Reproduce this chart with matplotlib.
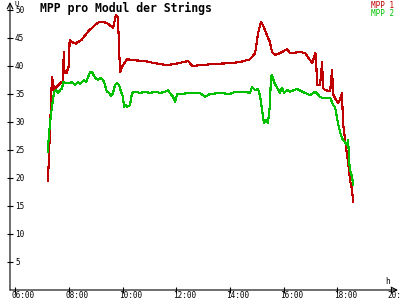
import matplotlib.pyplot as plt
from matplotlib.transforms import ScaledTranslation, blended_transform_factory

# MPP 1 (red) - time in hours, voltage per module
t1 = [7.21, 7.25, 7.36, 7.40, 7.44, 7.51, 7.60, 7.70, 7.77, 7.80, 7.83, 7.90, 7.99, 8.02,
      8.10, 8.25, 8.33, 8.45, 8.55, 8.70, 8.85, 9.00, 9.15, 9.23, 9.41, 9.64, 9.75, 9.82,
      9.90, 9.97, 10.16, 10.5, 10.8, 11.2, 11.6, 11.9, 12.44, 12.6, 13.0, 13.5, 14.0,
      14.38, 14.75, 14.94, 15.05, 15.16, 15.23, 15.38, 15.49, 15.57, 15.68, 15.87, 16.13,
      16.24, 16.62, 16.81, 17.07, 17.18, 17.21, 17.25, 17.36, 17.44, 17.47, 17.55, 17.74,
      17.81, 17.85, 17.92, 18.03, 18.11, 18.18, 18.22, 18.33, 18.41, 18.48, 18.56, 18.59]
u1 = [19.5, 24.0, 38.0, 37.0, 35.7, 36.2, 36.6, 37.1, 37.0, 42.5, 38.7, 38.7, 40.0, 44.6,
      44.3, 44.0, 44.3, 44.6, 45.2, 46.1, 46.8, 47.5, 47.9, 47.9, 47.7, 46.8, 49.1, 48.8,
      38.9, 39.8, 41.2, 41.0, 40.9, 40.5, 40.2, 40.3, 40.9, 40.0, 40.2, 40.4, 40.5,
      40.7, 41.2, 42.3, 45.9, 47.9, 47.3, 45.5, 44.3, 42.5, 42.0, 42.3, 43.0,
      42.3, 42.5, 42.3, 40.5, 42.3, 42.0, 36.6, 36.6, 40.7, 36.1, 35.7, 35.5,
      39.3, 35.0, 34.3, 33.4, 34.0, 35.2, 29.8, 25.5, 22.7, 19.6, 17.9, 15.7]

# MPP 2 (green)
t2 = [7.21, 7.22, 7.29, 7.36, 7.44, 7.51, 7.59, 7.66, 7.74, 7.77, 7.85, 8.03, 8.11, 8.22,
      8.33, 8.41, 8.56, 8.63, 8.71, 8.78, 8.85, 8.97, 9.08, 9.15, 9.27, 9.34, 9.41, 9.49,
      9.56, 9.64, 9.71, 9.79, 9.86, 9.94, 10.01, 10.05, 10.12, 10.16, 10.27, 10.35, 10.46,
      10.65, 10.83, 11.02, 11.21, 11.39, 11.58, 11.69, 11.76, 11.88, 11.95, 12.03, 12.14,
      12.51, 12.88, 13.07, 13.26, 13.63, 14.00, 14.19, 14.56, 14.75, 14.82, 14.94, 15.05,
      15.13, 15.20, 15.24, 15.27, 15.35, 15.42, 15.49, 15.53, 15.57, 15.65, 15.76, 15.87,
      15.94, 16.02, 16.13, 16.24, 16.50, 16.80, 16.99, 17.18, 17.36, 17.44, 17.74, 17.85,
      17.92, 18.03, 18.11, 18.18, 18.29, 18.37, 18.41, 18.45, 18.48, 18.56, 18.59]
u2 = [24.6, 25.9, 30.0, 32.7, 35.4, 35.7, 35.2, 35.7, 36.0, 37.1, 37.0, 37.0, 37.1, 36.6,
      37.1, 36.8, 37.5, 37.1, 38.0, 38.9, 38.9, 37.9, 37.5, 37.9, 37.5, 36.6, 35.4, 35.2,
      34.6, 35.2, 36.6, 37.0, 36.6, 35.4, 34.5, 32.7, 33.0, 32.7, 33.0, 35.2, 35.4,
      35.2, 35.4, 35.2, 35.4, 35.2, 35.4, 35.7, 35.2, 34.5, 33.6, 35.0, 35.0,
      35.2, 35.2, 34.5, 35.0, 35.2, 35.0, 35.4, 35.4, 35.2, 36.2, 35.7, 35.9,
      34.5, 32.1, 30.7, 29.8, 30.4, 29.8, 33.0, 38.0, 38.4, 37.1, 36.1, 35.2,
      36.1, 35.2, 35.7, 35.4, 35.9, 35.2, 34.8, 35.4, 34.5, 34.3, 34.3, 33.0,
      32.7, 29.8, 28.2, 27.1, 26.4, 25.9, 26.8, 22.7, 21.4, 20.2, 18.8]

xticks = [6, 8, 10, 12, 14, 16, 18, 20]
xlabels = ['06:00', '08:00', '10:00', '12:00', '14:00', '16:00', '18:00', '20:00']
yticks = [5, 10, 15, 20, 25, 30, 35, 40, 45, 50]

red = '#c00000'
green = '#00c000'
mono = 'DejaVu Sans Mono'

fig = plt.figure(figsize=(4, 3), dpi=100)
ax = fig.add_axes([10 / 400, 10 / 300, 388 / 400, 288 / 300])
ax.set_xlim(5.795, 20.27)
ax.set_ylim(0, 51.43)
ax.patch.set_alpha(0)

ax.plot(t1, u1, color=red, lw=0.8, antialiased=False)
ax.plot(t2, u2, color=green, lw=0.8, antialiased=False)

for s in ax.spines.values():
    s.set_visible(False)

# axes with open arrow heads
ax.annotate('', xy=(1, 0), xytext=(0, 0), xycoords='axes fraction',
            arrowprops=dict(arrowstyle='->', lw=0.8, color='black', shrinkA=0, shrinkB=0))
ax.annotate('', xy=(0, 1), xytext=(0, 0), xycoords='axes fraction',
            arrowprops=dict(arrowstyle='->', lw=0.8, color='black', shrinkA=0, shrinkB=0))

ax.set_xticks(xticks, xlabels)
ax.tick_params(axis='x', direction='inout', length=5, width=0.8, pad=0,
               labelsize=5.5)
off = ScaledTranslation(-3.5 / 100, 2.5 / 100, fig.dpi_scale_trans)
for lbl in ax.get_xticklabels():
    lbl.set_family(mono)
    lbl.set_ha('left')
    lbl.set_transform(lbl.get_transform() + off)

ax.set_yticks(yticks)
ax.tick_params(axis='y', direction='inout', length=5, width=0.8, labelleft=False)
trans = blended_transform_factory(ax.transAxes, ax.transData)
for v in yticks:
    ax.text(0.013, v, str(v), transform=trans, ha='left', va='center',
            fontsize=5.5, family=mono)

fig.text(14 / 400, 1 - 3.5 / 300, 'U', fontsize=5, family=mono, va='center')
fig.text(385 / 400, 1 - 282 / 300, 'h', fontsize=5.5, family=mono, va='center')

fig.text(40 / 400, 1 - 8 / 300, 'MPP pro Modul der Strings', fontsize=8.3,
         family=mono, weight='bold', va='center')
fig.text(394 / 400, 1 - 5.5 / 300, 'MPP 1', fontsize=5.5, family=mono,
         color=red, ha='right', va='center')
fig.text(394 / 400, 1 - 13 / 300, 'MPP 2', fontsize=5.5, family=mono,
         color=green, ha='right', va='center')

plt.savefig('out.png', dpi=100)
